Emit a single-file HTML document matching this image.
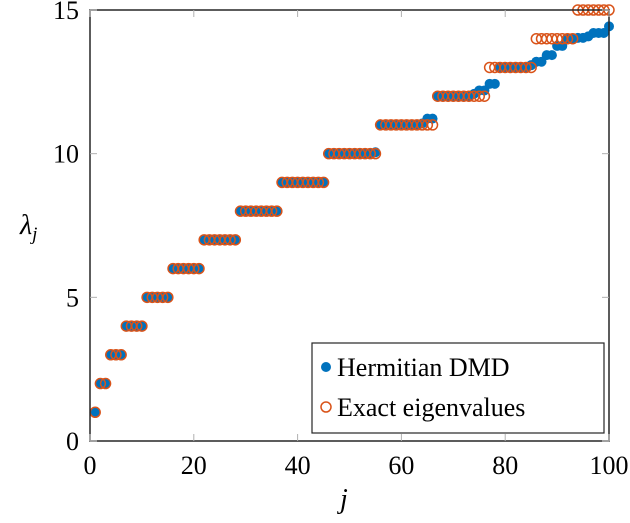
<!DOCTYPE html>
<html><head><meta charset="utf-8"><style>
html,body{margin:0;padding:0;background:#fff;}
svg text{font-family:"Liberation Serif",serif;fill:#000;}
</style></head><body>
<svg id="chart" width="630" height="518" viewBox="0 0 630 518" xmlns="http://www.w3.org/2000/svg">
<g id="grid"></g>
<g id="marks"></g>
<rect x="90" y="10" width="519" height="431" fill="none" stroke="#262626" stroke-width="1.5"/>
<g id="ticks"></g>
<text x="20" y="234" font-size="28" font-style="italic">λ<tspan font-size="19" dy="6">j</tspan></text>
<text x="340" y="508" font-size="28" font-style="italic">j</text>
<g>
<rect x="312" y="343" width="292" height="90" fill="#fff" stroke="#262626" stroke-width="1.2"/>
<circle cx="326" cy="367" r="5" fill="#0072bd"/>
<text x="337" y="376" font-size="26">Hermitian DMD</text>
<circle cx="326" cy="407" r="5" fill="none" stroke="#d95319" stroke-width="1.5"/>
<text x="337" y="416" font-size="26">Exact eigenvalues</text>
</g>
</svg>
<script>
const xTicks=[0,20,40,60,80,100];
const yTicks=[0,5,10,15];
const exactVals=[1,2,2,3,3,3,4,4,4,4,5,5,5,5,5,6,6,6,6,6,6,7,7,7,7,7,7,7,8,8,8,8,8,8,8,8,9,9,9,9,9,9,9,9,9,10,10,10,10,10,10,10,10,10,10,11,11,11,11,11,11,11,11,11,11,11,12,12,12,12,12,12,12,12,12,12,13,13,13,13,13,13,13,13,13,14,14,14,14,14,14,14,14,15,15,15,15,15,15,15];
const hermVals=[1,2,2,3,3,3,4,4,4,4,5,5,5,5,5,6,6,6,6,6,6,7,7,7,7,7,7,7,8,8,8,8,8,8,8,8,9,9,9,9,9,9,9,9,9,10,10,10,10,10,10,10,10,10,10.05,11,11,11,11,11,11,11,11,11.05,11.22,11.22,12,12,12,12,12,12,12,12.08,12.2,12.2,12.43,12.43,13,13,13,13,13,13,13.08,13.2,13.2,13.43,13.43,13.75,13.75,13.98,13.98,14.03,14.03,14.08,14.2,14.2,14.2,14.43];
const X0=90,X1=609,Y0=441,Y1=10;
const sx=v=>X0+(v-0)/(100-0)*(X1-X0);
const sy=v=>Y0-(v-0)/(15-0)*(Y0-Y1);
const NS="http://www.w3.org/2000/svg";
const grid=document.getElementById('grid'),ticks=document.getElementById('ticks'),marks=document.getElementById('marks');
function mk(tag,attrs,parent){const e=document.createElementNS(NS,tag);for(const k in attrs)e.setAttribute(k,attrs[k]);parent.appendChild(e);return e;}
xTicks.forEach(t=>{
  const x=sx(t);
  const a=mk('line',{x1:x,x2:x,y1:Y0,y2:Y0-7,stroke:'#b0b0b0','stroke-width':1},ticks);
  
  
  const b=mk('line',{x1:x,x2:x,y1:Y1,y2:Y1+7,stroke:'#b0b0b0','stroke-width':1},ticks);
  
  
  const l=mk('text',{x:x,y:474,'font-size':26,'text-anchor':'middle'},ticks);
  l.textContent=t;
  
  
});
yTicks.forEach(t=>{
  const y=sy(t);
  const a=mk('line',{x1:X0,x2:X0+7,y1:y,y2:y,stroke:'#b0b0b0','stroke-width':1},ticks);
  
  
  const b=mk('line',{x1:X1,x2:X1-7,y1:y,y2:y,stroke:'#b0b0b0','stroke-width':1},ticks);
  
  
  const l=mk('text',{x:79,y:y+9,'font-size':26,'text-anchor':'end'},ticks);
  l.textContent=t;
  
  
});
hermVals.forEach((v,i)=>{
  const c=mk('circle',{cx:sx(i+1),cy:sy(v),r:5,fill:'#0072bd'},marks);
  
  
});
exactVals.forEach((v,i)=>{
  const c=mk('circle',{cx:sx(i+1),cy:sy(v),r:5,fill:'none',stroke:'#d95319','stroke-width':1.5},marks);
  
  
});
</script>
</body></html>
